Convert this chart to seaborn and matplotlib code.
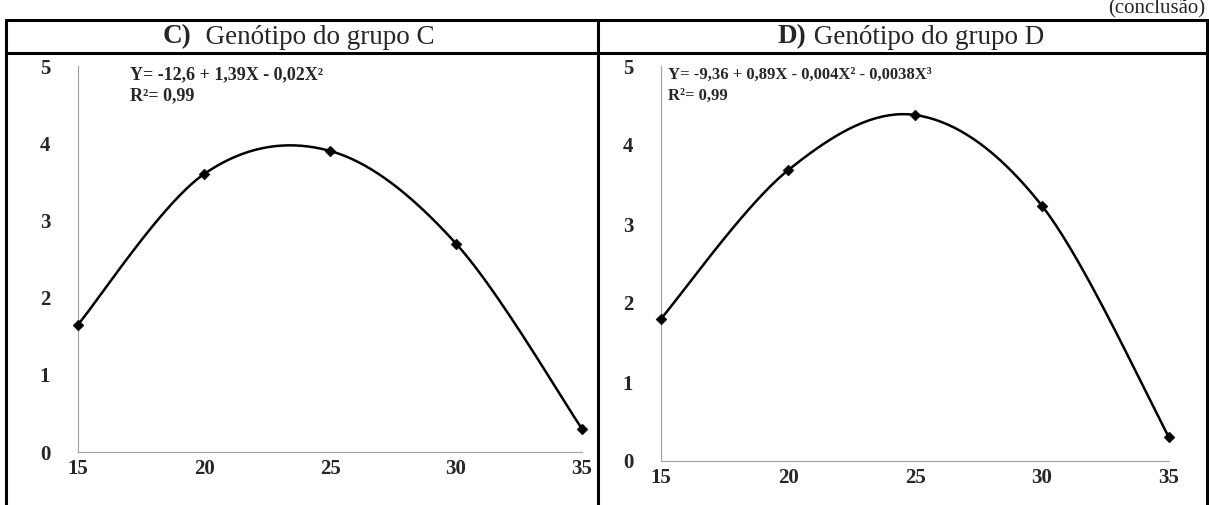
import numpy as np
import pandas as pd
import seaborn as sns
import matplotlib.pyplot as plt
from matplotlib.lines import Line2D

# Data
temp = [15, 20, 25, 30, 35]
grupo_c = [1.65, 3.60, 3.90, 2.70, 0.30]
grupo_d = [1.80, 3.68, 4.38, 3.23, 0.30]
eq_c = ["Y= -12,6 + 1,39X - 0,02X²", "R²= 0,99"]
eq_d = ["Y= -9,36 + 0,89X - 0,004X² - 0,0038X³", "R²= 0,99"]
titles = [("C)", "  Genótipo do grupo C"), ("D)", " Genótipo do grupo D")]
xticks = [15, 20, 25, 30, 35]
yticks = [0, 1, 2, 3, 4, 5]

sns.set_style("white")
plt.rcParams['font.family'] = ['Liberation Serif', 'DejaVu Serif']


def smooth(xs, ys, n=40):
    # Excel-like smoothed line (Catmull-Rom through the points)
    p = np.column_stack([xs, ys]).astype(float)
    p = np.vstack([p[0], p, p[-1]])
    out = []
    t = np.linspace(0, 1, n)[:, None]
    for i in range(1, len(p) - 2):
        p0, p1, p2, p3 = p[i - 1], p[i], p[i + 1], p[i + 2]
        seg = 0.5 * ((2 * p1) + (-p0 + p2) * t + (2 * p0 - 5 * p1 + 4 * p2 - p3) * t ** 2
                     + (-p0 + 3 * p1 - 3 * p2 + p3) * t ** 3)
        out.append(seg)
    out = np.vstack(out)
    return out[:, 0], out[:, 1]


W, H = 1209, 505
fig = plt.figure(figsize=(W / 100, H / 100), dpi=100)

panels = [
    (grupo_c, eq_c, [78 / W, 1 - 452 / H, 504 / W, 386 / H], 130, 13),
    (grupo_d, eq_d, [661 / W, 1 - 461 / H, 508 / W, 395 / H], 668, 12),
]

for vals, eq, rect, eqx, eqfs in panels:
    ax = fig.add_axes(rect)
    cx, cy = smooth(temp, vals)
    sns.lineplot(x=cx, y=cy, ax=ax, color='black', linewidth=1.8, sort=False,
                 estimator=None)
    sns.scatterplot(x=temp, y=vals, ax=ax, marker='D', color='black', s=30,
                    edgecolor='black', zorder=3, clip_on=False)
    ax.set_xlim(15, 35)
    ax.set_ylim(0, 5)
    ax.set_xticks(xticks)
    ax.set_yticks(yticks)
    for s in ['top', 'right']:
        ax.spines[s].set_visible(False)
    for s in ['left', 'bottom']:
        ax.spines[s].set_color('#a0a0a0')
        ax.spines[s].set_linewidth(0.8)
    ax.tick_params(axis='both', direction='out', color='#a0a0a0', length=4,
                   width=0.8, labelsize=15)
    ax.tick_params(axis='y', pad=16)
    ax.tick_params(axis='x', pad=1)
    for lab in ax.get_xticklabels() + ax.get_yticklabels():
        lab.set_fontweight('bold')
    fig.text(eqx / W, 1 - 75 / H, eq[0], fontsize=eqfs, fontweight='bold',
             va='center', ha='left')
    fig.text(eqx / W, 1 - 96 / H, eq[1], fontsize=eqfs, fontweight='bold',
             va='center', ha='left')

# Table borders
lines = [
    ((6, 1209), (20, 20)),
    ((6, 1209), (53, 53)),
    ((6, 6), (20, 505)),
    ((598, 598), (20, 505)),
    ((1207, 1207), (20, 505)),
]
for (x0, x1), (y0, y1) in lines:
    fig.add_artist(Line2D([x0 / W, x1 / W], [1 - y0 / H, 1 - y1 / H],
                          color='black', linewidth=2.2))

# Header titles
for (bold, rest), x0 in zip(titles, [163, 778]):
    t1 = fig.text(x0 / W, 1 - 37 / H, bold, fontsize=19.5, fontweight='bold',
                  va='center', ha='left')
    fig.canvas.draw()
    plt.annotate(rest, xy=(1, 0.5), xycoords=t1, fontsize=19.5, va='center',
                 ha='left')

fig.text(1205 / W, 1 - 9 / H, "(conclusão)", fontsize=15, va='center',
         ha='right')

fig.savefig("out.png", dpi=100)
